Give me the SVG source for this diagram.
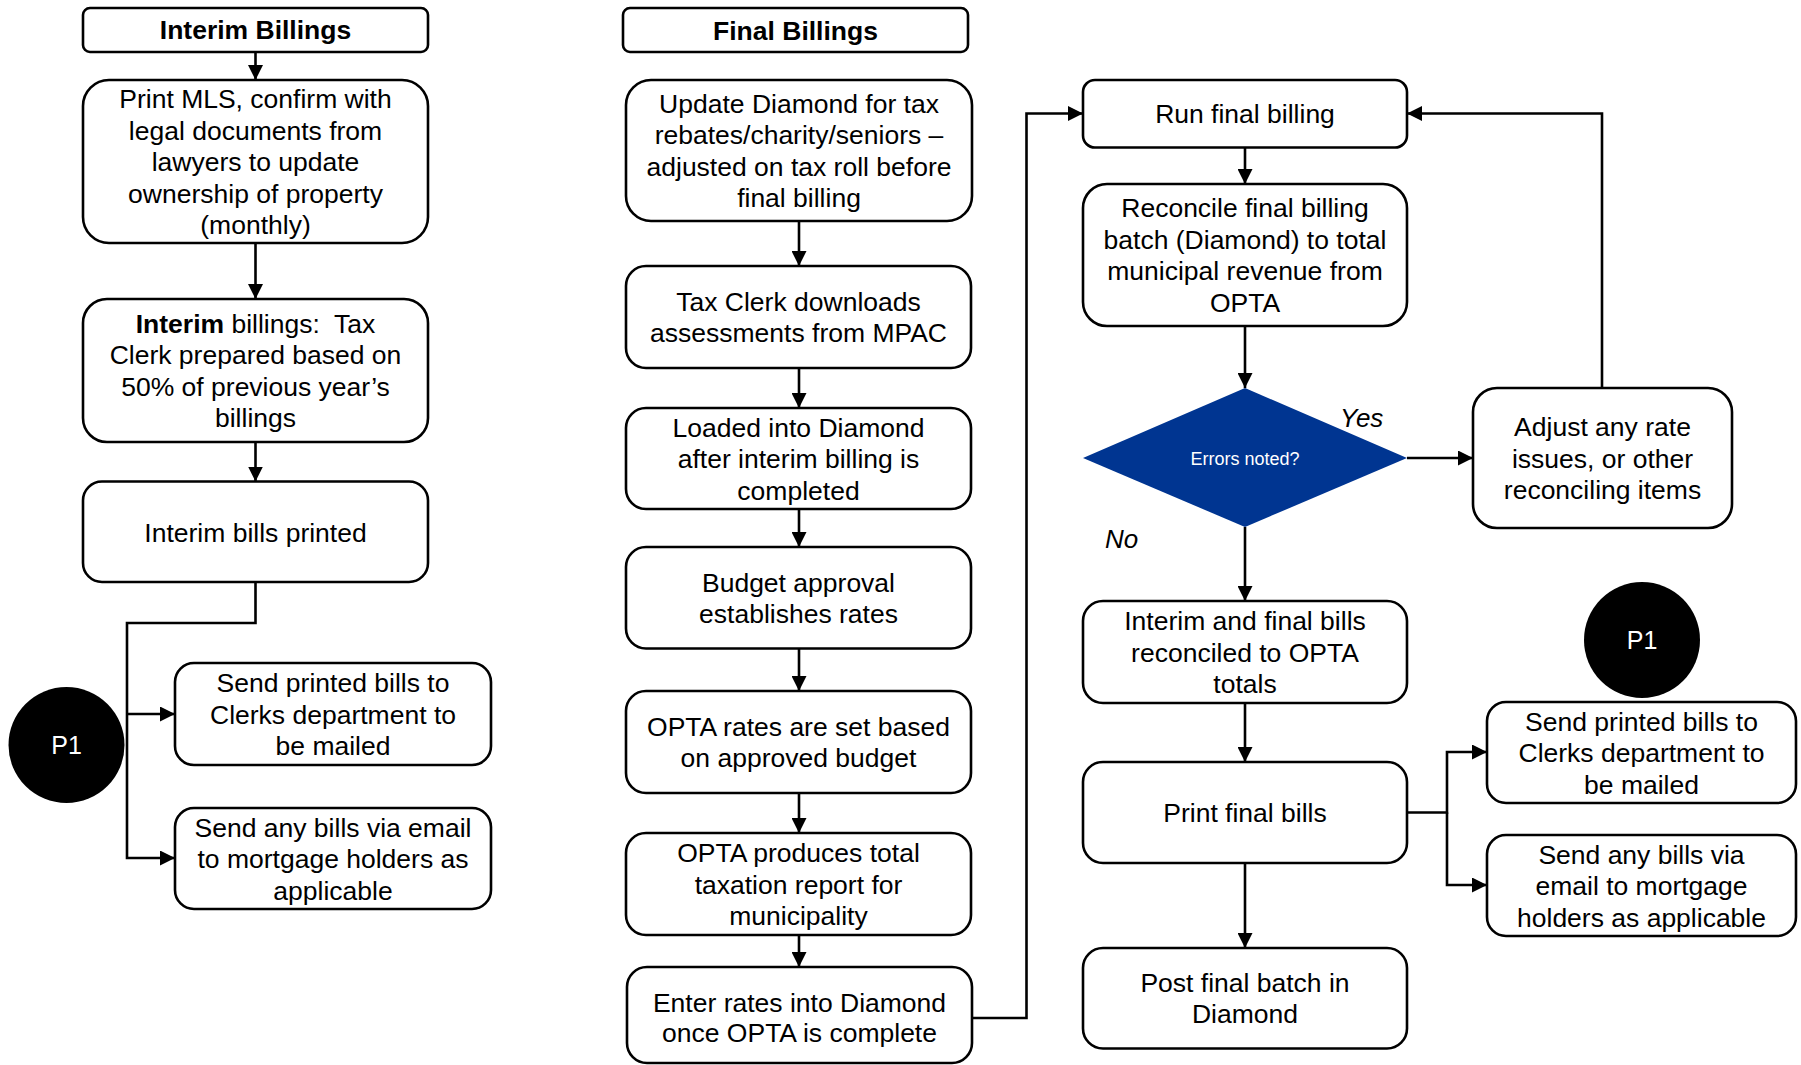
<svg xmlns="http://www.w3.org/2000/svg" width="1801" height="1065" viewBox="0 0 1801 1065">
  <style>
    .box { fill: #fff; stroke: #000; stroke-width: 2.6; }
    .t { font-family: "Liberation Sans", Arial, sans-serif; font-size: 26.5px; text-anchor: middle; fill: #000; }
    .hd { font-weight: bold; }
    .wire { fill: none; stroke: #000; stroke-width: 2.6; }
    .arrow { marker-end: url(#head); }
    .dot { fill: #000; }
    .dot-t { font-family: "Liberation Sans", Arial, sans-serif; font-size: 25px; text-anchor: middle; fill: #fff; }
    .lbl { font-family: "Liberation Sans", Arial, sans-serif; font-size: 26px; font-style: italic; fill: #000; }
  </style>
  <defs>
    <marker id="head" viewBox="0 0 15 15" refX="15" refY="7.5" markerWidth="15" markerHeight="15" markerUnits="userSpaceOnUse" orient="auto">
      <path d="M0,0 L15,7.5 L0,15 z" fill="#000"/>
    </marker>
  </defs>

  <!-- Interim billings column -->
  <g id="interim-header">
    <rect class="box" x="83" y="8" width="345" height="44" rx="7"/>
    <text class="t hd" x="255.5" y="39">Interim Billings</text>
  </g>
  <g id="print-mls">
    <rect class="box" x="83" y="80" width="345" height="163" rx="26"/>
    <text class="t" x="255.5" y="108">Print MLS, confirm with<tspan x="255.5" dy="31.5">legal documents from</tspan><tspan x="255.5" dy="31.5">lawyers to update</tspan><tspan x="255.5" dy="31.5">ownership of property</tspan><tspan x="255.5" dy="31.5">(monthly)</tspan></text>
  </g>
  <g id="interim-prep">
    <rect class="box" x="83" y="299" width="345" height="143" rx="24"/>
    <text class="t" x="255.5" y="332.7" xml:space="preserve"><tspan font-weight="bold">Interim</tspan> billings:  Tax<tspan x="255.5" dy="31.5">Clerk prepared based on</tspan><tspan x="255.5" dy="31.5">50% of previous year’s</tspan><tspan x="255.5" dy="31.5">billings</tspan></text>
  </g>
  <g id="interim-printed">
    <rect class="box" x="83" y="481.5" width="345" height="100.5" rx="19"/>
    <text class="t" x="255.5" y="541.5">Interim bills printed</text>
  </g>
  <g id="interim-p1">
    <circle class="dot" cx="66.5" cy="745" r="58"/>
    <text class="dot-t" x="66.5" y="754">P1</text>
  </g>
  <g id="interim-mail">
    <rect class="box" x="175" y="663" width="316" height="102" rx="19"/>
    <text class="t" x="333" y="692">Send printed bills to<tspan x="333" dy="31.5">Clerks department to</tspan><tspan x="333" dy="31.5">be mailed</tspan></text>
  </g>
  <g id="interim-email">
    <rect class="box" x="175" y="808" width="316" height="101" rx="19"/>
    <text class="t" x="333" y="836.5">Send any bills via email<tspan x="333" dy="31.5">to mortgage holders as</tspan><tspan x="333" dy="31.5">applicable</tspan></text>
  </g>

  <!-- Final billings column -->
  <g id="final-header">
    <rect class="box" x="623" y="8" width="345" height="44" rx="7"/>
    <text class="t hd" x="795.5" y="39.5">Final Billings</text>
  </g>
  <g id="update-diamond">
    <rect class="box" x="626" y="80" width="346" height="141" rx="25"/>
    <text class="t" x="799" y="112.7">Update Diamond for tax<tspan x="799" dy="31.5">rebates/charity/seniors –</tspan><tspan x="799" dy="31.5">adjusted on tax roll before</tspan><tspan x="799" dy="31.5">final billing</tspan></text>
  </g>
  <g id="download-mpac">
    <rect class="box" x="626" y="266" width="345" height="102" rx="20"/>
    <text class="t" x="798.5" y="310.7">Tax Clerk downloads<tspan x="798.5" dy="31.5">assessments from MPAC</tspan></text>
  </g>
  <g id="load-diamond">
    <rect class="box" x="626" y="408" width="345" height="101" rx="20"/>
    <text class="t" x="798.5" y="436.5">Loaded into Diamond<tspan x="798.5" dy="31.5">after interim billing is</tspan><tspan x="798.5" dy="31.5">completed</tspan></text>
  </g>
  <g id="budget-approval">
    <rect class="box" x="626" y="547" width="345" height="101.5" rx="20"/>
    <text class="t" x="798.5" y="591.5">Budget approval<tspan x="798.5" dy="31.5">establishes rates</tspan></text>
  </g>
  <g id="opta-rates">
    <rect class="box" x="626" y="691" width="345" height="102" rx="20"/>
    <text class="t" x="798.5" y="735.7">OPTA rates are set based<tspan x="798.5" dy="31.5">on approved budget</tspan></text>
  </g>
  <g id="opta-report">
    <rect class="box" x="626" y="833" width="345" height="102" rx="20"/>
    <text class="t" x="798.5" y="862">OPTA produces total<tspan x="798.5" dy="31.5">taxation report for</tspan><tspan x="798.5" dy="31.5">municipality</tspan></text>
  </g>
  <g id="enter-rates">
    <rect class="box" x="627" y="967" width="345" height="96" rx="20"/>
    <text class="t" x="799.5" y="1011.7">Enter rates into Diamond<tspan x="799.5" dy="30">once OPTA is complete</tspan></text>
  </g>

  <!-- Final run, reconciliation and distribution -->
  <g id="run-final">
    <rect class="box" x="1083" y="80" width="324" height="67.5" rx="12"/>
    <text class="t" x="1245" y="123.2">Run final billing</text>
  </g>
  <g id="reconcile-batch">
    <rect class="box" x="1083" y="184" width="324" height="142" rx="24"/>
    <text class="t" x="1245" y="217.2">Reconcile final billing<tspan x="1245" dy="31.5">batch (Diamond) to total</tspan><tspan x="1245" dy="31.5">municipal revenue from</tspan><tspan x="1245" dy="31.5">OPTA</tspan></text>
  </g>
  <g id="errors-check">
    <polygon points="1245,388 1407,458 1245,527 1083,458" fill="#003591"/>
    <text x="1245" y="464.5" font-family="'Liberation Sans', Arial, sans-serif" font-size="18" text-anchor="middle" fill="#fff">Errors noted?</text>
  </g>
  <g id="adjust-rates">
    <rect class="box" x="1473" y="388" width="259" height="140" rx="24"/>
    <text class="t" x="1602.5" y="436">Adjust any rate<tspan x="1602.5" dy="31.5">issues, or other</tspan><tspan x="1602.5" dy="31.5">reconciling items</tspan></text>
  </g>
  <g id="reconciled-totals">
    <rect class="box" x="1083" y="601" width="324" height="102" rx="20"/>
    <text class="t" x="1245" y="630">Interim and final bills<tspan x="1245" dy="31.5">reconciled to OPTA</tspan><tspan x="1245" dy="31.5">totals</tspan></text>
  </g>
  <g id="print-final">
    <rect class="box" x="1083" y="762" width="324" height="101" rx="20"/>
    <text class="t" x="1245" y="822">Print final bills</text>
  </g>
  <g id="post-final">
    <rect class="box" x="1083" y="948" width="324" height="100.5" rx="20"/>
    <text class="t" x="1245" y="991.7">Post final batch in<tspan x="1245" dy="31.5">Diamond</tspan></text>
  </g>
  <g id="final-p1">
    <circle class="dot" cx="1642" cy="640" r="58"/>
    <text class="dot-t" x="1642" y="649">P1</text>
  </g>
  <g id="final-mail">
    <rect class="box" x="1487" y="702" width="309" height="101" rx="19"/>
    <text class="t" x="1641.5" y="730.5">Send printed bills to<tspan x="1641.5" dy="31.5">Clerks department to</tspan><tspan x="1641.5" dy="31.5">be mailed</tspan></text>
  </g>
  <g id="final-email">
    <rect class="box" x="1487" y="835" width="309" height="101" rx="19"/>
    <text class="t" x="1641.5" y="863.5">Send any bills via<tspan x="1641.5" dy="31.5">email to mortgage</tspan><tspan x="1641.5" dy="31.5">holders as applicable</tspan></text>
  </g>

  <!-- Decision labels -->
  <text class="lbl" x="1340" y="426.5">Yes</text>
  <text class="lbl" x="1105" y="548">No</text>

  <!-- Connectors -->
  <g id="connectors">
    <path class="wire arrow" d="M255.5,52 V80"/>
    <path class="wire arrow" d="M255.5,243 V299"/>
    <path class="wire arrow" d="M255.5,442 V481.5"/>
    <path class="wire arrow" d="M255.5,582 V623 H127 V858 H175"/>
    <path class="wire arrow" d="M127,714 H175"/>

    <path class="wire arrow" d="M799,221 V266"/>
    <path class="wire arrow" d="M799,368 V408"/>
    <path class="wire arrow" d="M799,509 V547"/>
    <path class="wire arrow" d="M799,648.5 V691"/>
    <path class="wire arrow" d="M799,793 V833"/>
    <path class="wire arrow" d="M799,935 V967"/>
    <path class="wire arrow" d="M972,1018 H1026.5 V113.5 H1083"/>

    <path class="wire arrow" d="M1245,147.5 V184"/>
    <path class="wire arrow" d="M1245,326 V388"/>
    <path class="wire arrow" d="M1407,458 H1473"/>
    <path class="wire arrow" d="M1602,388 V113.5 H1407"/>
    <path class="wire arrow" d="M1245,527 V601"/>
    <path class="wire arrow" d="M1245,703 V762"/>
    <path class="wire arrow" d="M1245,863 V948"/>
    <path class="wire arrow" d="M1407,812.5 H1447 V752 H1487"/>
    <path class="wire arrow" d="M1447,812.5 V885 H1487"/>
  </g>
</svg>
